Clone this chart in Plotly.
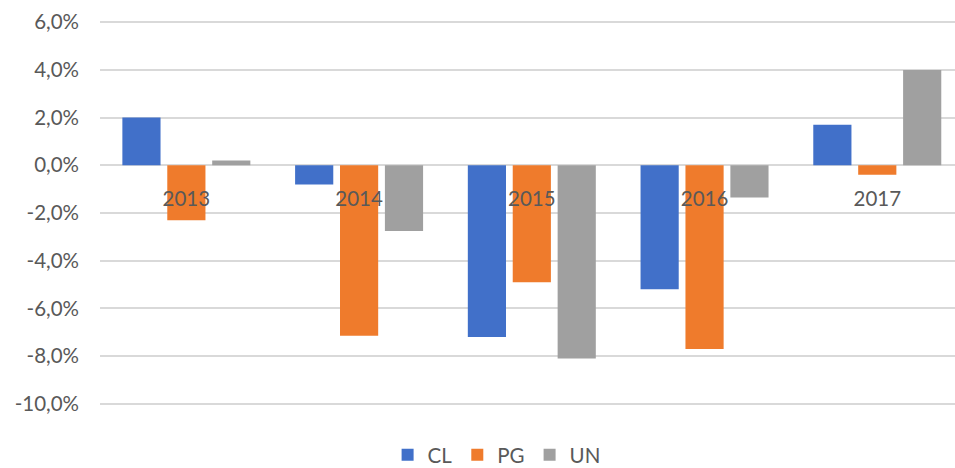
import plotly.graph_objects as go

# Annual change by company, in percent
years = ["2013", "2014", "2015", "2016", "2017"]
cl = [2.0, -0.8, -7.2, -5.2, 1.7]
pg = [-2.3, -7.15, -4.9, -7.7, -0.4]
un = [0.2, -2.75, -8.1, -1.35, 4.0]

y_ticks = [6, 4, 2, 0, -2, -4, -6, -8, -10]
y_tick_labels = ["6,0%", "4,0%", "2,0%", "0,0%", "-2,0%", "-4,0%", "-6,0%", "-8,0%", "-10,0%"]

series = [
    ("CL", cl, "#4170c9"),
    ("PG", pg, "#ef7b2c"),
    ("UN", un, "#a0a0a0"),
]

fig = go.Figure()
for name, values, color in series:
    fig.add_trace(go.Bar(
        x=years,
        y=values,
        name=name,
        marker=dict(color=color, line=dict(width=0)),
        hoverinfo="x+y+name",
    ))

label_font = dict(family="Lato, 'Open Sans', sans-serif", size=20.5, color="#595959")

fig.update_layout(
    width=955,
    height=468,
    margin=dict(l=100, r=0, t=21, b=63, autoexpand=False),
    paper_bgcolor="white",
    plot_bgcolor="white",
    barmode="group",
    bargap=0.22,
    bargroupgap=0.15,
    font=label_font,
    showlegend=True,
    legend=dict(
        orientation="h",
        xref="container",
        yref="container",
        x=0.52,
        y=0.028,
        xanchor="center",
        yanchor="middle",
        font=label_font,
        itemwidth=30,
        traceorder="normal",
    ),
    xaxis=dict(
        type="category",
        range=[-0.5, 4.45],
        anchor="free",
        position=10.05 / 16.1,
        showgrid=False,
        showline=False,
        zeroline=False,
        ticks="",
        ticklabelstandoff=19,
        tickfont=label_font,
    ),
    yaxis=dict(
        range=[-10.05, 6.05],
        tickmode="array",
        tickvals=y_ticks,
        ticktext=y_tick_labels,
        showgrid=True,
        gridcolor="#d9d9d9",
        gridwidth=2,
        zeroline=True,
        zerolinecolor="#d9d9d9",
        zerolinewidth=2,
        showline=False,
        ticks="",
        ticklabelstandoff=20,
        tickfont=label_font,
    ),
)

fig.write_html("out.html")
